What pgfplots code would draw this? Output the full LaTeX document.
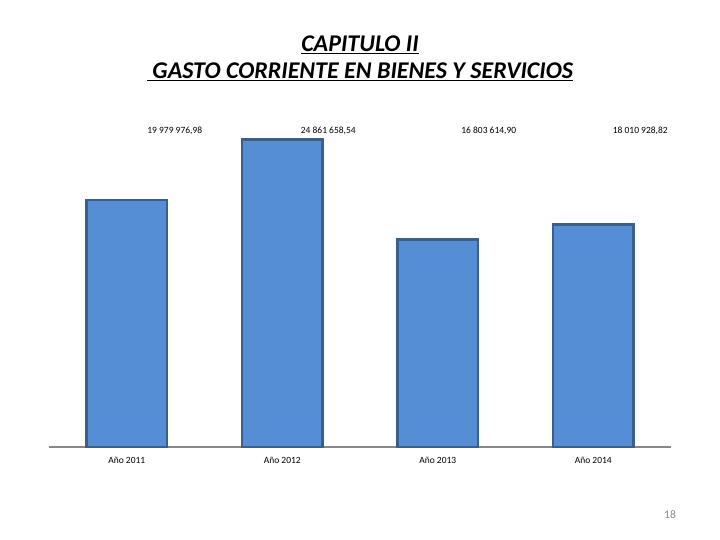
\documentclass[border=0pt]{standalone}
\usepackage{pgfplots}
\pgfplotsset{compat=1.18}
\usepackage{fontspec}
\setmainfont{Carlito}
\definecolor{barblue}{HTML}{558ED5}
\definecolor{bordblue}{HTML}{3A5F8B}
\definecolor{axgray}{HTML}{888888}
\begin{document}
\begin{tikzpicture}
\useasboundingbox (0,0) rectangle (720pt,540pt);
\node[anchor=base,font=\fontsize{24}{28}\selectfont\bfseries\itshape] at (360pt,488pt) {\underline{CAPITULO II}};
\node[anchor=base,font=\fontsize{24}{28}\selectfont\bfseries\itshape] at (360pt,461pt) {\underline{\ GASTO CORRIENTE EN BIENES Y SERVICIOS}};
\node[font=\fontsize{11.5}{13}\selectfont,text=axgray] at (670pt,25pt) {18};
\begin{axis}[
  at={(49pt,93pt)}, anchor=south west,
  scale only axis, width=622pt, height=321.4pt,
  xmin=-0.5, xmax=3.5, ymin=0, ymax=26e6,
  axis y line=none, axis x line*=bottom,
  x axis line style={draw=axgray, line width=1.5pt, -},
  xtick=data, xticklabels={Año 2011, Año 2012, Año 2013, Año 2014},
  major tick length=0pt,
  xticklabel style={font=\fontsize{9.5}{11}\selectfont, yshift=-7pt},
  ytick=\empty,
  clip=false,
]
\addplot[ybar, bar width=80.5pt, fill=barblue, draw=bordblue, line width=2.5pt]
  coordinates {(0,19979976.98) (1,24861658.54) (2,16803614.90) (3,18010928.82)};
\node[font=\fontsize{9.5}{11}\selectfont, xshift=48pt] at (axis cs:0,25.55e6) {19 979 976,98};
\node[font=\fontsize{9.5}{11}\selectfont, xshift=46pt] at (axis cs:1,25.55e6) {24 861 658,54};
\node[font=\fontsize{9.5}{11}\selectfont, xshift=51pt] at (axis cs:2,25.55e6) {16 803 614,90};
\node[font=\fontsize{9.5}{11}\selectfont, xshift=47pt] at (axis cs:3,25.55e6) {18 010 928,82};
\end{axis}
\end{tikzpicture}
\end{document}
